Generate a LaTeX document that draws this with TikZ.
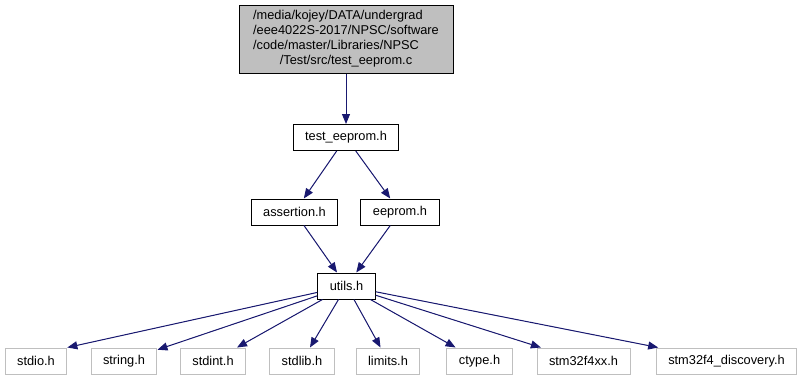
\documentclass[tikz,border=0pt]{standalone}
\usepackage{fontspec}
\setmainfont{Liberation Sans}
\usetikzlibrary{arrows.meta}

\definecolor{incblue}{HTML}{191970}
\definecolor{sysgray}{HTML}{BFBFBF}

\tikzset{
  hdr/.style={draw=black, fill=white, line width=1pt, inner xsep=12pt, inner ysep=0pt,
    minimum height=26pt, font=\fontsize{12.8}{15}\selectfont},
  syshdr/.style={hdr, draw=sysgray},
  inc/.style={->, draw=incblue, fill=incblue, line width=1pt},
}

\begin{document}
\begin{tikzpicture}[>={Triangle[length=10pt,width=8pt]}, x=1pt, y=-1pt]
      \useasboundingbox (0,0) rectangle (803,380);
      % the source file
      \node[hdr, fill=sysgray, minimum width=214pt, minimum height=68pt] (src) at (346,39)
        {\begin{tabular}{@{}l@{}}/media/kojey/DATA/undergrad\\/eee4022S-2017/NPSC/software\\/code/master/Libraries/NPSC\\\multicolumn{1}{@{}c@{}}{/Test/src/test\_eeprom.c}\end{tabular}};
      % project headers
      \node[hdr] (testh) at (346,137.5) {test\_eeprom.h};
      \node[hdr] (assert) at (294.5,212) {assertion.h};
      \node[hdr] (eeprom) at (400,212) {eeprom.h};
      \node[hdr] (utils) at (346.5,286) {utils.h};
      % system headers
      \node[syshdr] (stdio) at (36,361) {stdio.h};
      \node[syshdr] (string) at (124,361) {string.h};
      \node[syshdr] (stdint) at (213,361) {stdint.h};
      \node[syshdr] (stdlib) at (302,361) {stdlib.h};
      \node[syshdr] (limits) at (388,361) {limits.h};
      \node[syshdr] (ctype) at (479.5,361) {ctype.h};
      \node[syshdr] (stmxx) at (583.5,361) {stm32f4xx.h};
      \node[syshdr] (disco) at (726.5,361) {stm32f4\_discovery.h};
      % includes
      \draw[inc] (src) -- (testh);
      \draw[inc] (testh) -- (assert);
      \draw[inc] (testh) -- (eeprom);
      \draw[inc] (assert) -- (utils);
      \draw[inc] (eeprom) -- (utils);
      \draw[inc] (utils) -- (stdio.north east);
      \draw[inc] (utils) -- (string);
      \draw[inc] (utils) -- (stdint);
      \draw[inc] (utils) -- (stdlib);
      \draw[inc] (utils) -- (limits);
      \draw[inc] (utils) -- (ctype);
      \draw[inc] (utils) -- (stmxx);
      \draw[inc] (utils) -- (disco);
\end{tikzpicture}
\end{document}
